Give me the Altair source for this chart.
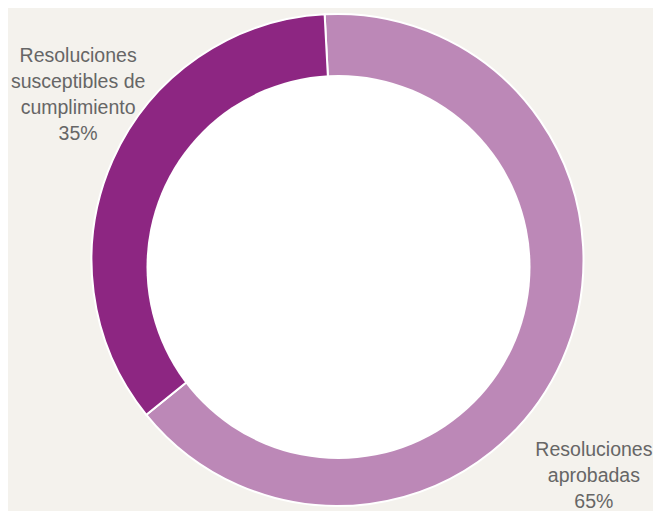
import math
import altair as alt
import pandas as pd

categories = ["Resoluciones aprobadas", "Resoluciones susceptibles de cumplimiento"]
values = [65, 35]
label_lines = ["Resoluciones\naprobadas", "Resoluciones\nsusceptibles de\ncumplimiento"]
colors = ["#BC88B7", "#8D2682"]

df = pd.DataFrame({
    "categoria": categories,
    "valor": values,
    "etiqueta": label_lines,
    "orden": list(range(len(categories))),
})

# ring centre and hole centre (chart coordinates)
CX, CY = 329.5, 252
HX, HY = 330.5, 259
R_OUT, R_HOLE = 246, 192
OFF = -3.0 * math.pi / 180
theta_scale = alt.Scale(domain=[0, 100], range=[OFF, 2 * math.pi + OFF])

ring = alt.Chart(df).mark_arc(
    outerRadius=R_OUT, stroke="white", strokeWidth=2
).encode(
    x=alt.value(CX),
    y=alt.value(CY),
    theta=alt.Theta("valor:Q", stack=True, scale=theta_scale),
    color=alt.Color("categoria:N", scale=alt.Scale(domain=categories, range=colors), legend=None),
    order=alt.Order("orden:Q"),
)

hole = alt.Chart(df.head(1)).mark_arc(
    radius=R_HOLE, theta=0, theta2=2 * math.pi, fill="white"
).encode(x=alt.value(HX), y=alt.value(HY))

txt_common = dict(
    radius=250, align="center", baseline="middle", lineBreak="\n",
    font="Liberation Sans", fontSize=19.5, color="#666666", lineHeight=26,
)

def text_layer(cat, dx, dy):
    return alt.Chart(df).transform_calculate(
        texto="datum.etiqueta + '\\n' + datum.valor + '%'"
    ).transform_stack(
        stack="valor", groupby=[], as_=["t0", "t1"], sort=[alt.SortField("orden")]
    ).transform_calculate(
        tmid="(datum.t0 + datum.t1) / 2"
    ).transform_filter(alt.datum.categoria == cat).mark_text(dx=dx, dy=dy, **txt_common).encode(
        x=alt.value(CX),
        y=alt.value(CY),
        theta=alt.Theta("tmid:Q", scale=theta_scale),
        text="texto:N",
    )

# label offsets relative to the slice mid-angle (theta offset -3deg shifts mids by ~0.5deg)
lbl_a = text_layer(categories[0], 28, 88)
lbl_b = text_layer(categories[1], -31, -102)

chart = alt.layer(ring, hole, lbl_a, lbl_b).properties(
    width=645, height=503, background="#F4F2ED", padding=0,
    autosize=alt.AutoSizeParams(type="none"),
).configure_view(stroke=None)

chart.save("out.html", embed_options={"renderer": "svg", "actions": False})
